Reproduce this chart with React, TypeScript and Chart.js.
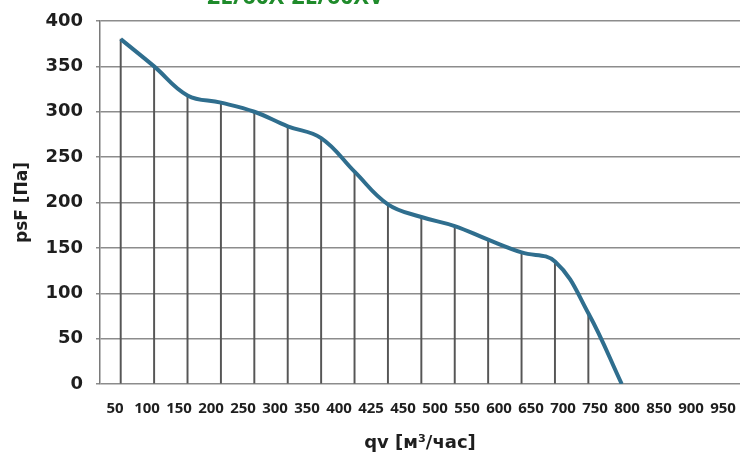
import React, { useEffect, useRef } from 'react';
import { Chart, registerables } from 'chart.js';

Chart.register(...registerables);

// qv [м³/час] labels along the bottom
const flowLabels = [
  '50', '100', '150', '200', '250', '300', '350', '400', '425', '450',
  '500', '550', '600', '650', '700', '750', '800', '850', '900', '950',
];

// psF [Па], one per drop line
const pressure = [380, 350, 318, 310, 300, 284, 271, 234, 198, 184, 174, 159, 145, 135, 78, 0];

const yMin = 0;
const yMax = 400;
const yStep = 50;

const titleText = '2E/60X-2E/60XV';

const gridGray = '#8c8c8c';
const dropGray = '#565656';
const curveBlue = '#2f6e8e';
const labelColor = '#1e1e1e';

const App: React.FC = () => {
  const canvasRef = useRef<HTMLCanvasElement | null>(null);
  const chartRef = useRef<Chart | null>(null);

  useEffect(() => {
    document.body.style.margin = '0';
    if (!canvasRef.current) return;
    if (chartRef.current) chartRef.current.destroy();

    const points = pressure.map((v, i) => ({ x: i, y: v }));

    chartRef.current = new Chart(canvasRef.current, {
      data: {
        datasets: [
          {
            type: 'line',
            data: points,
            borderColor: curveBlue,
            borderWidth: 4,
            tension: 0.4,
            pointRadius: 0,
            fill: false,
            order: 0,
          },
          {
            type: 'bar',
            data: points,
            backgroundColor: dropGray,
            barThickness: 1.3,
            order: 1,
          },
        ],
      },
      options: {
        animation: false,
        responsive: false,
        layout: { padding: { top: 21, right: 0, left: 0, bottom: 0 } },
        plugins: {
          legend: { display: false },
          tooltip: { enabled: false },
        },
        scales: {
          x: {
            type: 'linear',
            display: false,
            offset: false,
            grid: { offset: false },
            min: -0.62,
            max: 18.54,
          },
          x2: {
            type: 'linear',
            axis: 'x',
            position: 'bottom',
            min: -0.469,
            max: 19.53,
            offset: false,
            grid: { display: false, drawTicks: false },
            border: { display: false },
            afterBuildTicks: (scale: any) => {
              scale.ticks = flowLabels.map((_, i) => ({ value: i }));
            },
            afterFit: (scale: any) => {
              scale.height = 72;
              scale.paddingLeft = 0;
              scale.paddingRight = 0;
            },
            ticks: {
              autoSkip: false,
              maxRotation: 0,
              padding: 16,
              color: labelColor,
              font: { family: '"Open Sans"', size: 15, weight: 'bold' },
              callback: (v: any) => flowLabels[Math.round(Number(v))] ?? '',
            },
            title: {
              display: true,
              text: 'qv [м³/час]',
              color: labelColor,
              font: { family: '"DejaVu Sans"', size: 18, weight: 'bold' },
              padding: { top: 2, bottom: 2 },
            },
          },
          y: {
            min: yMin,
            max: yMax,
            afterFit: (scale: any) => {
              scale.width = 100;
              scale.paddingTop = 0;
              scale.paddingBottom = 0;
            },
            grid: { color: gridGray, lineWidth: 1.5, tickLength: 4 },
            border: { display: true, color: '#7a7a7a', width: 1.5 },
            ticks: {
              stepSize: yStep,
              padding: 13,
              color: labelColor,
              font: { family: '"DejaVu Sans"', size: 18, weight: 'bold' },
            },
            title: {
              display: true,
              text: 'psF [Па]',
              color: labelColor,
              font: { family: '"DejaVu Sans"', size: 17, weight: 'bold' },
              padding: { top: 12, bottom: 0 },
            },
          },
        },
      },
    });

    return () => {
      if (chartRef.current) {
        chartRef.current.destroy();
        chartRef.current = null;
      }
    };
  }, []);

  return (
    <div style={{ position: 'relative', width: 740, height: 456, overflow: 'hidden', background: '#fff' }}>
      <div
        style={{
          position: 'absolute',
          top: -16.5,
          left: 207,
          fontFamily: '"Open Sans", sans-serif',
          fontWeight: 'bold',
          fontSize: 23,
          lineHeight: '22px',
          color: '#1f8b2b',
          whiteSpace: 'nowrap',
        }}
      >
        {titleText}
      </div>
      <canvas ref={canvasRef} width={740} height={456}></canvas>
    </div>
  );
};

export default App;
